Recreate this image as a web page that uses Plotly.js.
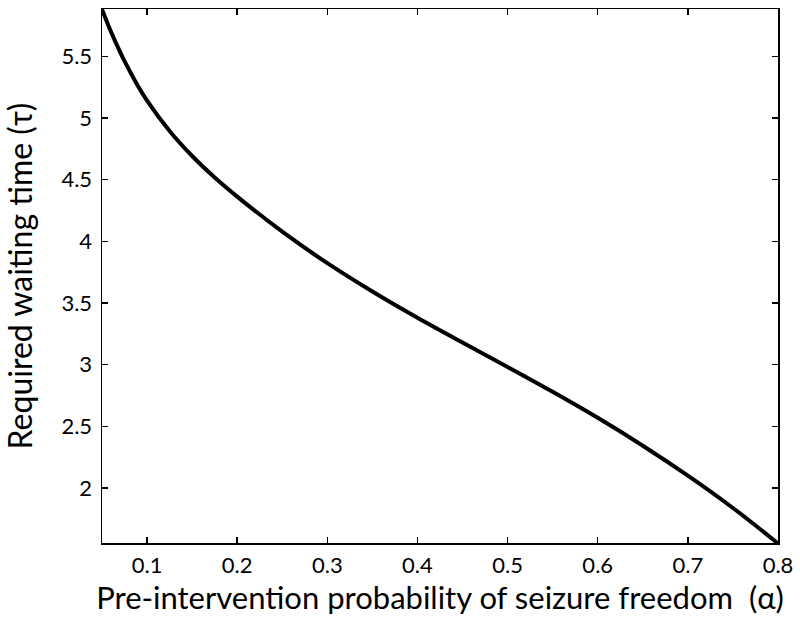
<!DOCTYPE html>
<html>
<head>
<meta charset="utf-8">
<script src="https://cdn.plot.ly/plotly-3.0.1.min.js"></script>
<style>
  body { margin: 0; background: #fff; }
  #chart { width: 800px; height: 620px; }
</style>
</head>
<body>
<div id="chart"></div>
<script>
// pre-intervention probability (alpha) vs required waiting time (tau)
var alpha = [0.05, 0.06, 0.07, 0.075, 0.0875, 0.10, 0.125, 0.15, 0.175, 0.20,
  0.25, 0.30, 0.35, 0.40, 0.45, 0.50, 0.55, 0.60, 0.65, 0.70, 0.75, 0.80];
var tau = [5.88, 5.699, 5.536, 5.461, 5.291, 5.142, 4.895, 4.692, 4.518, 4.363,
  4.078, 3.823, 3.593, 3.38, 3.179, 2.982, 2.78, 2.569, 2.343, 2.10, 1.838, 1.55];

var xTicks = [0.1, 0.2, 0.3, 0.4, 0.5, 0.6, 0.7, 0.8];
var yTicks = [2, 2.5, 3, 3.5, 4, 4.5, 5, 5.5];

var data = [
  {
    x: alpha,
    y: tau,
    type: "scatter",
    mode: "lines",
    line: { color: "#000000", width: 4, shape: "spline", smoothing: 1 },
    hoverinfo: "skip",
  },
];

var tickFont = { family: "Lato, sans-serif", size: 22, color: "#000000" };

var layout = {
  width: 800,
  height: 620,
  margin: { l: 102, r: 22, t: 9, b: 77 },
  paper_bgcolor: "#ffffff",
  plot_bgcolor: "#ffffff",
  showlegend: false,
  xaxis: {
    range: [0.05, 0.8],
    tickvals: xTicks,
    ticktext: xTicks.map(function (v) { return v.toFixed(1); }),
    ticks: "inside",
    ticklen: 6,
    tickcolor: "#000000",
    tickwidth: 1.5,
    ticklabelstandoff: 2,
    showline: true,
    linecolor: "#000000",
    linewidth: 1.5,
    mirror: "ticks",
    showgrid: false,
    zeroline: false,
    tickfont: tickFont,
    title: {
      text: "Pre-intervention probability of seizure freedom  (α)",
      font: { family: "Lato, sans-serif", size: 31, color: "#000000" },
      standoff: 0,
    },
  },
  yaxis: {
    range: [1.554, 5.884],
    tickvals: yTicks,
    ticktext: yTicks.map(function (v) { return String(v); }),
    ticks: "inside",
    ticklen: 6,
    tickcolor: "#000000",
    tickwidth: 1.5,
    ticklabelstandoff: 4,
    showline: true,
    linecolor: "#000000",
    linewidth: 1.5,
    mirror: "ticks",
    showgrid: false,
    zeroline: false,
    tickfont: tickFont,
    title: {
      text: "Required waiting time (τ)",
      font: { family: "Lato, sans-serif", size: 32, color: "#000000" },
      standoff: 22,
    },
  },
};

Plotly.newPlot("chart", data, layout, { staticPlot: true });
</script>
</body>
</html>
